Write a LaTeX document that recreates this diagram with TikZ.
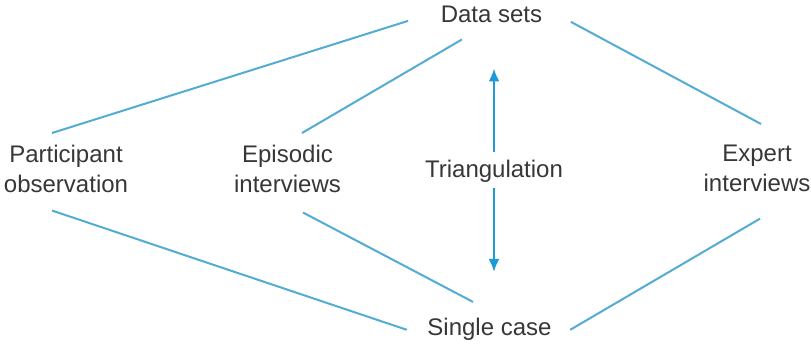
\documentclass[tikz,border=0pt]{standalone}
\usepackage{fontspec}
\setmainfont{Liberation Sans}
\usetikzlibrary{arrows.meta}

\definecolor{linkblue}{RGB}{84,172,212}
\definecolor{arrowblue}{RGB}{30,155,215}
\definecolor{labelgray}{RGB}{55,55,55}

\begin{document}
\begin{tikzpicture}[
  x=1pt, y=-1pt,
  label text/.style={inner sep=0pt, text=labelgray, align=center,
    font=\fontsize{24}{30}\selectfont},
  link/.style={draw=linkblue, line width=2pt},
  twoway/.style={draw=arrowblue, line width=2.4pt,
    -{Latex[length=13pt,width=11pt]}}
]
\useasboundingbox[fill=white] (0,0) rectangle (811,343);

% labels
\node[label text, anchor=base]  (ds)  at (491.5,22)  {Data sets};
\node[label text, anchor=north] (po)  at (66,144.5)  {Participant\\observation};
\node[label text, anchor=north] (ep)  at (287.5,144.5) {Episodic\\interviews};
\node[label text, anchor=north] (ex)  at (757,144.5) {Expert\\interviews};
\node[label text, anchor=base]  (tri) at (494,177)   {Triangulation};
\node[label text, anchor=base]  (sc)  at (489.5,335) {Single case};

% links to the data sets
\draw[link] ([shift={(-32.5,7)}]ds.west)   -- ([shift={(-14,-11.5)}]po.north);
\draw[link] ([shift={(-29.5,17)}]ds.south) -- ([shift={(14.5,-11.5)}]ep.north);
\draw[link] ([shift={(28.5,8)}]ds.east)    -- ([shift={(4,-20.5)}]ex.north);

% links to the single case
\draw[link] ([shift={(-14,18)}]po.south)  -- ([shift={(-20.5,1)}]sc.west);
\draw[link] ([shift={(15.5,20)}]ep.south) -- ([shift={(-16.5,-15.5)}]sc.north);
\draw[link] ([shift={(3,27)}]ex.south)    -- ([shift={(18.5,1)}]sc.east);

% triangulation arrows
\draw[twoway] ([shift={(0,-7.5)}]tri.north) -- ([shift={(2.5,46)}]ds.south);
\draw[twoway] ([shift={(0,6)}]tri.south)    -- ([shift={(4.5,-45.5)}]sc.north);
\end{tikzpicture}
\end{document}
